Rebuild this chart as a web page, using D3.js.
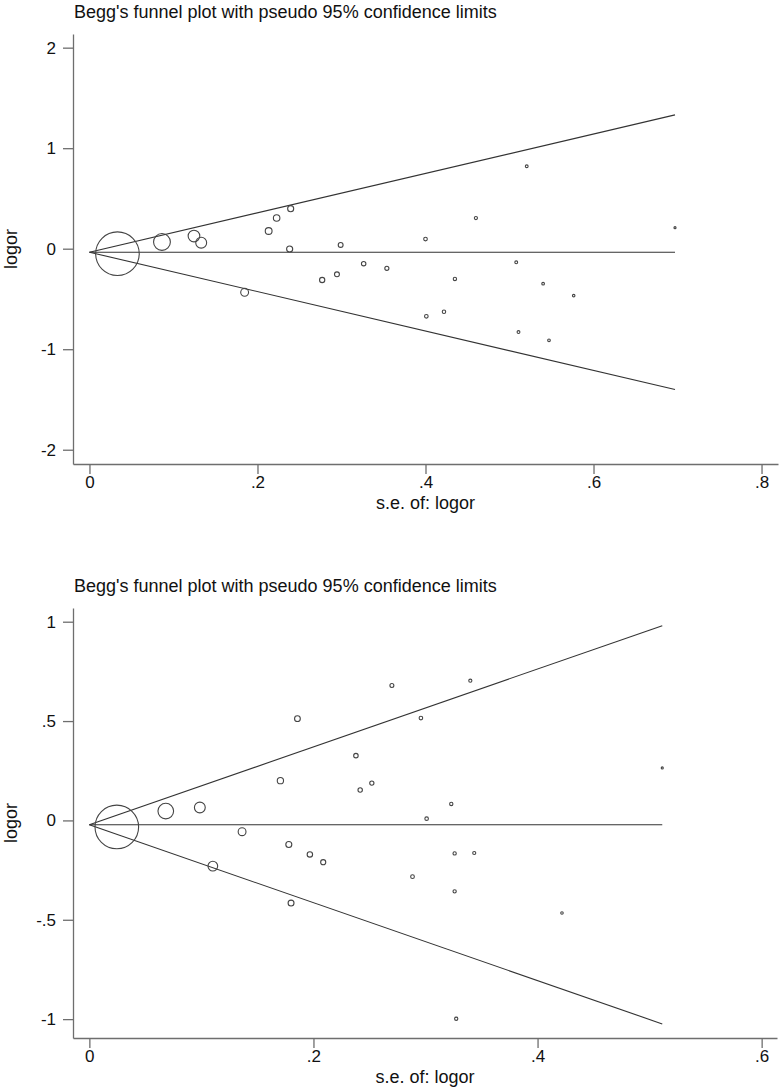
<!DOCTYPE html>
<html>
<head>
<meta charset="utf-8">
<script src="https://cdn.jsdelivr.net/npm/d3@7"></script>
<style>
  body { margin: 0; background: #fff; }
  svg { display: block; }
</style>
</head>
<body>
<div id="chart"></div>
<script>
// panel A
const topSe = [0.0333, 0.0863, 0.1244, 0.133, 0.2133, 0.2228, 0.2395, 0.2383, 0.1847,
  0.299, 0.277, 0.2946, 0.3264, 0.354, 0.5205, 0.46, 0.4, 0.697, 0.508, 0.435,
  0.54, 0.5764, 0.422, 0.401, 0.5107, 0.547];
const topLogor = [-0.05, 0.067, 0.126, 0.06, 0.176, 0.305, 0.398, -0.003, -0.434,
  0.037, -0.311, -0.255, -0.149, -0.195, 0.82, 0.305, 0.096, 0.209, -0.135, -0.301,
  -0.348, -0.467, -0.627, -0.673, -0.829, -0.912];
const topTheta = -0.035;
const topXTicks = [0, 0.2, 0.4, 0.6, 0.8];
const topYTicks = [-2, -1, 0, 1, 2];

// panel B
const botSe = [0.0245, 0.0682, 0.0986, 0.1363, 0.1102, 0.1705, 0.178, 0.1968, 0.2087,
  0.18, 0.2379, 0.2417, 0.2521, 0.1857, 0.27, 0.34, 0.2959, 0.5113, 0.323, 0.301,
  0.326, 0.3435, 0.2884, 0.326, 0.4218, 0.3274];
const botLogor = [-0.033, 0.047, 0.065, -0.057, -0.23, 0.2, -0.121, -0.171, -0.21,
  -0.416, 0.326, 0.153, 0.188, 0.512, 0.679, 0.703, 0.515, 0.264, 0.083, 0.009,
  -0.166, -0.164, -0.283, -0.357, -0.466, -0.998];
const botTheta = -0.022;
const botXTicks = [0, 0.2, 0.4, 0.6];
const botYTicks = [-1, -0.5, 0, 0.5, 1];

const title = "Begg's funnel plot with pseudo 95% confidence limits";
const xLabel = 's.e. of: logor';
const yLabel = 'logor';

const W = 782;
const H = 1090;
const font = '"Liberation Sans", Arial, sans-serif';
const axisColor = '#6e6e6e';
const lineColor = '#333';
const maxR = 21.8;

const stataFmt = d => String(d).replace('0.', '.');

const svg = d3.select('#chart').append('svg')
  .attr('width', W)
  .attr('height', H);

function funnel(par) {
  const g = svg.append('g');
  const x = d3.scaleLinear().domain(par.xDomain).range([par.left, par.right]);
  const y = d3.scaleLinear().domain(par.yDomain).range([par.bottom, par.top]);

  const pts = par.se.map((s, i) => ({ se: s, b: par.logor[i] }));
  const seMin = d3.min(par.se);
  const seMax = d3.max(par.se);

  // title
  g.append('text')
    .attr('x', par.left + 1)
    .attr('y', par.top - 16)
    .style('font-family', font)
    .style('font-size', '18px')
    .attr('fill', '#111')
    .text(title);

  // axes
  const yAxis = d3.axisLeft(y)
    .tickValues(par.yTicks)
    .tickSizeInner(10)
    .tickSizeOuter(0)
    .tickPadding(7)
    .tickFormat(stataFmt);

  const xAxis = d3.axisBottom(x)
    .tickValues(par.xTicks)
    .tickSizeInner(10)
    .tickSizeOuter(0)
    .tickPadding(2)
    .tickFormat(stataFmt);

  const yAx = g.append('g')
    .attr('transform', `translate(${par.left},0)`)
    .call(yAxis);
  const xAx = g.append('g')
    .attr('transform', `translate(0,${par.bottom})`)
    .call(xAxis);

  [yAx, xAx].forEach(ax => {
    ax.selectAll('path, line')
      .attr('stroke', axisColor)
      .attr('stroke-width', 1.3);
    ax.selectAll('text')
      .style('font-family', font)
      .style('font-size', '17px')
      .attr('fill', '#111');
  });

  g.append('text')
    .attr('transform', `translate(${par.left - 56},${(par.top + par.bottom) / 2}) rotate(-90)`)
    .style('text-anchor', 'middle')
    .style('font-family', font)
    .style('font-size', '18px')
    .attr('fill', '#111')
    .text(yLabel);

  g.append('text')
    .attr('x', (par.left + par.right) / 2)
    .attr('y', par.bottom + 45)
    .style('text-anchor', 'middle')
    .style('font-family', font)
    .style('font-size', '18px')
    .attr('fill', '#111')
    .text(xLabel);

  // pseudo 95% limits and pooled line
  const lims = [
    [[0, par.theta], [seMax, par.theta]],
    [[0, par.theta], [seMax, par.theta + 1.96 * seMax]],
    [[0, par.theta], [seMax, par.theta - 1.96 * seMax]],
  ];
  const line = d3.line()
    .x(d => x(d[0]))
    .y(d => y(d[1]));
  g.selectAll('.lim')
    .data(lims)
    .enter().append('path')
    .attr('class', 'lim')
    .attr('d', line)
    .attr('fill', 'none')
    .attr('stroke', lineColor)
    .attr('stroke-width', 1.1);

  // studies, marker size by weight
  g.selectAll('.study')
    .data(pts)
    .enter().append('circle')
    .attr('class', 'study')
    .attr('cx', d => x(d.se))
    .attr('cy', d => y(d.b))
    .attr('r', d => maxR * seMin / d.se)
    .attr('fill', 'none')
    .attr('stroke', '#444')
    .attr('stroke-width', 1.1);
}

funnel({
  se: topSe, logor: topLogor, theta: topTheta,
  xTicks: topXTicks, yTicks: topYTicks,
  xDomain: [-0.0196, 0.8196], yDomain: [-2.142, 2.136],
  left: 73, right: 778, top: 34, bottom: 464,
});

funnel({
  se: botSe, logor: botLogor, theta: botTheta,
  xTicks: botXTicks, yTicks: botYTicks,
  xDomain: [-0.0146, 0.6137], yDomain: [-1.095, 1.069],
  left: 73, right: 777, top: 608, bottom: 1038,
});
</script>
</body>
</html>
